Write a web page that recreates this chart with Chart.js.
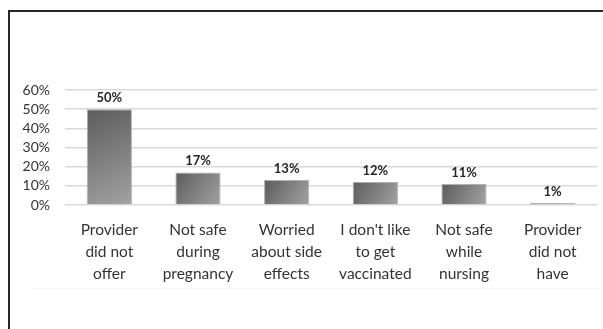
<!DOCTYPE html>
<html>
<head>
<meta charset="utf-8">
<script src="https://cdn.jsdelivr.net/npm/chart.js@4/dist/chart.umd.min.js"></script>
<style>
  html, body { margin: 0; padding: 0; background: #fff; }
  body { width: 603px; height: 329px; position: relative; overflow: hidden; }
  .frame {
    position: absolute; left: 8px; top: 10px; right: -4px; bottom: -4px;
    border-left: 2px solid #262626; border-top: 2px solid #262626;
  }
  .underline {
    position: absolute; left: 32px; right: 4px; top: 288px;
    border-top: 1px solid #f3f3f3;
  }
  .wrap { position: absolute; left: 0; top: 0; width: 603px; height: 329px; }
</style>
</head>
<body>
<div class="frame"></div>
<div class="underline"></div>
<div class="wrap"><canvas id="chart"></canvas></div>
<script>
const categories = [
    ["Provider", "did not", "offer"],
    ["Not safe", "during", "pregnancy"],
    ["Worried", "about side", "effects"],
    ["I don't like", "to get", "vaccinated"],
    ["Not safe", "while", "nursing"],
    ["Provider", "did not", "have"]
];
const percentValues = [50, 17, 13, 12, 11, 1];
const percentLabels = ["50%", "17%", "13%", "12%", "11%", "1%"];
const yTicks = [0, 10, 20, 30, 40, 50, 60];

const fontFamily = "Lato, 'Open Sans', sans-serif";

function barGradient(context) {
    const chart = context.chart;
    const xScale = chart.scales.x;
    const yScale = chart.scales.y;
    if (!chart.chartArea || !xScale || !yScale) return "#7a7a7a";
    const cx = xScale.getPixelForValue(context.dataIndex);
    const half = (xScale.width / categories.length) * 0.51 / 2;
    const top = yScale.getPixelForValue(context.raw);
    const bottom = yScale.getPixelForValue(0);
    const g = chart.ctx.createLinearGradient(cx - half, top, cx + half, bottom);
    g.addColorStop(0, "#5c5c5c");
    g.addColorStop(1, "#a2a2a2");
    return g;
}

const valueLabels = {
    id: "valueLabels",
    afterDatasetsDraw(chart) {
        const ctx = chart.ctx;
        const meta = chart.getDatasetMeta(0);
        ctx.save();
        ctx.font = "bold 13px " + fontFamily;
        ctx.fillStyle = "#262626";
        ctx.textAlign = "center";
        ctx.textBaseline = "bottom";
        meta.data.forEach((bar, i) => {
            ctx.fillText(percentLabels[i], bar.x, bar.y - 5);
        });
        ctx.restore();
    }
};

new Chart(document.getElementById("chart"), {
    type: "bar",
    data: {
        labels: categories,
        datasets: [
            {
                data: percentValues,
                backgroundColor: barGradient,
                borderColor: "#b0b0b0",
                borderWidth: 1,
                categoryPercentage: 1,
                barPercentage: 0.51
            }
        ]
    },
    options: {
        responsive: true,
        maintainAspectRatio: false,
        animation: false,
        layout: {
            padding: { top: 90, right: 6, left: 0, bottom: 0 }
        },
        scales: {
            x: {
                grid: { display: false },
                border: { display: false },
                ticks: {
                    color: "#333333",
                    font: { family: fontFamily, size: 15.5, lineHeight: 1.42 },
                    padding: 6,
                    maxRotation: 0,
                    autoSkip: false
                },
                afterFit: (scale) => { scale.height = 124; }
            },
            y: {
                min: 0,
                max: 60,
                afterBuildTicks: (scale) => {
                    scale.ticks = yTicks.map(v => ({ value: v }));
                },
                grid: { color: "#d9d9d9", lineWidth: 1.5, drawTicks: false },
                border: { display: false },
                ticks: {
                    color: "#333333",
                    font: { family: fontFamily, size: 14 },
                    padding: 15,
                    autoSkip: false,
                    callback: (v) => v + "%"
                },
                afterFit: (scale) => { scale.width = 65; }
            }
        },
        plugins: {
            legend: { display: false },
            tooltip: { enabled: false }
        }
    },
    plugins: [valueLabels]
});
</script>
</body>
</html>
